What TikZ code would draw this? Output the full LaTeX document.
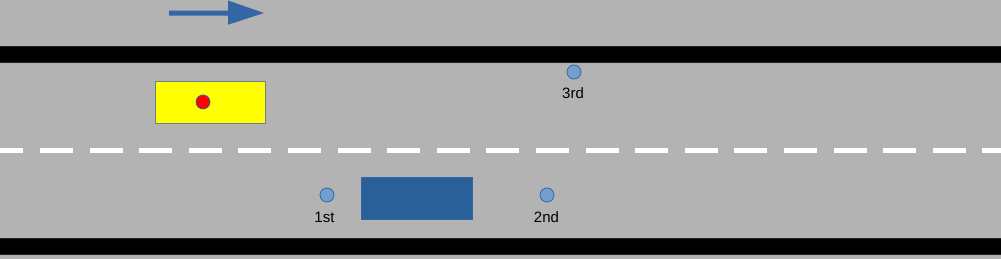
\documentclass[tikz,border=0pt]{standalone}
\usepackage{fontspec}
\setmainfont{Liberation Sans}
\definecolor{road}{HTML}{B3B3B3}
\definecolor{arrowblue}{HTML}{3465A4}
\definecolor{carblue}{HTML}{2A6099}
\definecolor{dotfill}{HTML}{729FCF}
\definecolor{yelborder}{HTML}{6E7F8E}
\definecolor{carYellow}{HTML}{FFFF00}
\definecolor{dotRed}{HTML}{FF0000}
\tikzset{
  band/.style={fill=black, draw=black!80!road, line width=0.8pt},
  dot/.style={circle, fill=dotfill, draw=arrowblue, line width=0.8pt, minimum size=14pt, inner sep=0pt},
  lbl/.style={font=\fontsize{15pt}{17pt}\selectfont, inner sep=0pt, anchor=base},
  lane/.style={draw=white, line width=5pt, dash pattern=on 33pt off 16.6pt},
}
\begin{document}
\begin{tikzpicture}[x=1pt,y=-1pt]
\fill[road] (0,0) rectangle (1001,259);
\useasboundingbox (0,0) rectangle (1001,259);
% direction arrow
\fill[arrowblue] (169,10.7) -- (228,10.7) -- (228,0.5) -- (264,13) -- (228,24.7) -- (228,15.7) -- (169,15.7) -- cycle;
% road edges
\draw[band] (-2,46) rectangle (1003,62);
\draw[band] (-2,238) rectangle (1003,254);
% centre lane line
\draw[lane] (-9.6,150.5) -- (1010,150.5);
% yellow vehicle
\node[draw=yelborder, fill=carYellow, line width=0.8pt, minimum width=110pt, minimum height=42pt, inner sep=0pt] (yel) at (210,102) {};
\node[circle, fill=dotRed, draw=arrowblue, line width=0.8pt, minimum size=14pt, inner sep=0pt] (red) at (203,102) {};
% blue vehicle
\node[draw=arrowblue, fill=carblue, line width=0.8pt, minimum width=111pt, minimum height=42pt, inner sep=0pt] (blue) at (416.5,198) {};
% points
\node[dot] (p1) at (327,195) {};
\node[dot] (p2) at (547,195) {};
\node[dot] (p3) at (574,72) {};
\node[lbl] (l1) at (324.5,222) {1st};
\node[lbl] (l2) at (546.5,222) {2nd};
\node[lbl] (l3) at (573,99) {3rd};
\end{tikzpicture}
\end{document}
